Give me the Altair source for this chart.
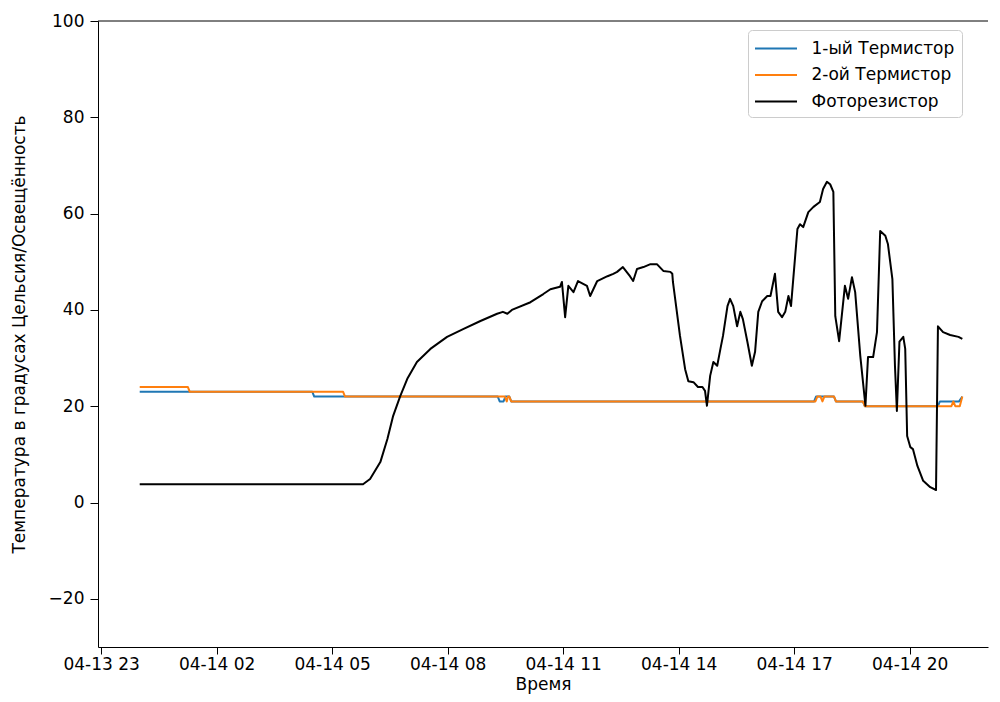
import altair as alt
import pandas as pd

DAY = "2019-04-14T"

# Photoresistor (black)
photo_t = ["00:00", "05:48", "05:59", "06:15", "06:26", "06:35", "06:46", "06:57", "07:12", "07:33",
           "07:59", "08:24", "08:51", "09:17", "09:26", "09:33", "09:40", "10:09", "10:29", "10:40",
           "10:55", "10:58", "11:03", "11:08", "11:16", "11:23", "11:37", "11:42", "11:53", "12:09",
           "12:18", "12:24", "12:33", "12:44", "12:49", "12:55", "13:05", "13:16", "13:26", "13:36",
           "13:47", "13:50", "13:51", "14:02", "14:10", "14:15", "14:23", "14:30", "14:37", "14:41",
           "14:44", "14:49", "14:54", "15:00", "15:05", "15:09", "15:16", "15:20", "15:25", "15:31",
           "15:36", "15:40", "15:47", "15:54", "15:59", "16:04", "16:10", "16:18", "16:23", "16:30",
           "16:35", "16:41", "16:46", "16:51", "16:55", "17:05", "17:09", "17:14", "17:22", "17:30",
           "17:40", "17:45", "17:51", "17:56", "18:01", "18:04", "18:10", "18:19", "18:24", "18:30",
           "18:35", "18:43", "18:51", "18:55", "19:03", "19:09", "19:14", "19:22", "19:26", "19:33",
           "19:37", "19:40", "19:44", "19:50", "19:53", "19:56", "20:01", "20:05", "20:12", "20:21",
           "20:32", "20:41", "20:44", "20:52", "21:03", "21:16", "21:22"]
photo_v = [3.8, 3.8, 4.9, 8.4, 13.2, 18.0, 22.1, 25.7, 29.2, 31.9,
           34.4, 36.0, 37.7, 39.2, 39.6, 39.2, 40.0, 41.6, 43.3, 44.3,
           44.8, 45.8, 38.5, 45.0, 43.7, 46.0, 45.0, 42.9, 46.0, 47.0,
           47.5, 47.9, 48.9, 47.0, 46.0, 48.5, 48.9, 49.5, 49.5, 48.1,
           47.9, 47.5, 45.8, 34.6, 27.7, 25.2, 25.0, 24.0, 24.0, 23.2,
           20.1, 26.3, 29.2, 28.4, 31.9, 34.6, 40.8, 42.3, 40.8, 36.6,
           39.6, 38.1, 33.4, 28.4, 31.3, 39.6, 41.8, 42.9, 42.9, 47.5,
           39.6, 38.5, 39.6, 42.9, 40.8, 56.8, 57.8, 57.2, 60.3, 61.4,
           62.4, 65.1, 66.6, 66.1, 64.5, 38.7, 33.5, 45.0, 42.3, 46.8,
           43.7, 30.4, 20.1, 30.2, 30.2, 35.4, 56.4, 55.4, 53.7, 46.4,
           28.4, 19.0, 33.4, 34.4, 31.9, 13.8, 11.5, 11.1, 7.6, 4.5,
           3.2, 2.6, 36.6, 35.4, 34.8, 34.4, 34.0]

# Thermistor 1 (blue)
t1_t = ["00:00", "04:29", "04:32", "09:18", "09:21", "09:27", "09:30", "09:36", "09:39", "17:31",
        "17:34", "18:02", "18:05", "18:47", "18:50", "20:44", "20:47", "21:17", "21:22"]
t1_v = [23, 23, 22, 22, 21, 21, 22, 22, 21, 21,
        22, 22, 21, 21, 20, 20, 21, 21, 22]

# Thermistor 2 (orange)
t2_t = ["00:00", "01:15", "01:18", "05:17", "05:20", "09:29", "09:32", "09:34", "09:36", "09:39",
        "17:33", "17:36", "17:41", "17:44", "17:47", "18:02", "18:05", "18:47", "18:50", "21:05",
        "21:08", "21:11", "21:18", "21:22"]
t2_v = [24, 24, 23, 23, 22, 22, 21, 22, 22, 21,
        21, 22, 22, 21, 22, 22, 21, 21, 20, 20,
        21, 20, 20, 22]

series_names = ["1-ый Термистор", "2-ой Термистор", "Фоторезистор"]
series_colors = ["#1f77b4", "#ff7f0e", "#000000"]

y_ticks = [-20, 0, 20, 40, 60, 80, 100]
x_tick_days = [13, 14, 14, 14, 14, 14, 14, 14]
x_tick_hours = [23, 2, 5, 8, 11, 14, 17, 20]

PLOT_W = 890
PLOT_H = 626
FONT = "DejaVu Sans"
FS = 17

rows = []
for name, ts, vs in [(series_names[0], t1_t, t1_v),
                     (series_names[1], t2_t, t2_v),
                     (series_names[2], photo_t, photo_v)]:
    for t, v in zip(ts, vs):
        rows.append({"time": DAY + t + ":00", "value": v, "series": name})
df = pd.DataFrame(rows)

x_values = [alt.DateTime(year=2019, month=4, date=d, hours=h) for d, h in zip(x_tick_days, x_tick_hours)]

lines = alt.Chart(df).mark_line(strokeWidth=2, strokeJoin="round").encode(
    x=alt.X("time:T",
            title="Время",
            scale=alt.Scale(domain=[alt.DateTime(year=2019, month=4, date=13, hours=22, minutes=55),
                                    alt.DateTime(year=2019, month=4, date=14, hours=22, minutes=2)]),
            axis=alt.Axis(values=x_values, format="%m-%d %H", grid=False, tickSize=7,
                          labelPadding=2, titlePadding=4, labelFlush=False, labelOverlap=False)),
    y=alt.Y("value:Q",
            title="Температура в градусах Цельсия/Освещённость",
            scale=alt.Scale(domain=[-30, 100], nice=False, zero=False),
            axis=alt.Axis(values=y_ticks, grid=False, tickSize=8, labelPadding=6, titlePadding=20)),
    color=alt.Color("series:N",
                    scale=alt.Scale(domain=series_names, range=series_colors),
                    sort=series_names,
                    legend=alt.Legend(title=None, orient="none", legendX=650, legendY=9)),
)

top_spine = alt.Chart(alt.Data(values=[{"k": 0}])).mark_rule(color="black", strokeWidth=1).encode(
    x=alt.value(0), x2=alt.value(PLOT_W), y=alt.value(0)
)

chart = alt.layer(lines, top_spine).properties(
    width=PLOT_W,
    height=PLOT_H,
    autosize=alt.AutoSizeParams(type="none"),
    padding={"left": 90, "top": 13, "right": 4, "bottom": 50},
).configure_view(
    stroke="transparent"
).configure_axis(
    labelFont=FONT, labelFontSize=FS, labelColor="black",
    titleFont=FONT, titleFontSize=FS, titleColor="black", titleFontWeight="normal",
    tickColor="black", domainColor="black", domainWidth=1, tickWidth=1,
).configure_legend(
    labelFont=FONT, labelFontSize=FS, labelColor="black",
    symbolType="M-2,0H2", symbolSize=441, symbolStrokeWidth=2,
    symbolOffset=9.5, labelOffset=24, rowPadding=6.5, padding=7,
    strokeColor="#cccccc", fillColor="white", cornerRadius=4,
)

chart.save("out.html", embed_options={"renderer": "svg", "actions": False})
